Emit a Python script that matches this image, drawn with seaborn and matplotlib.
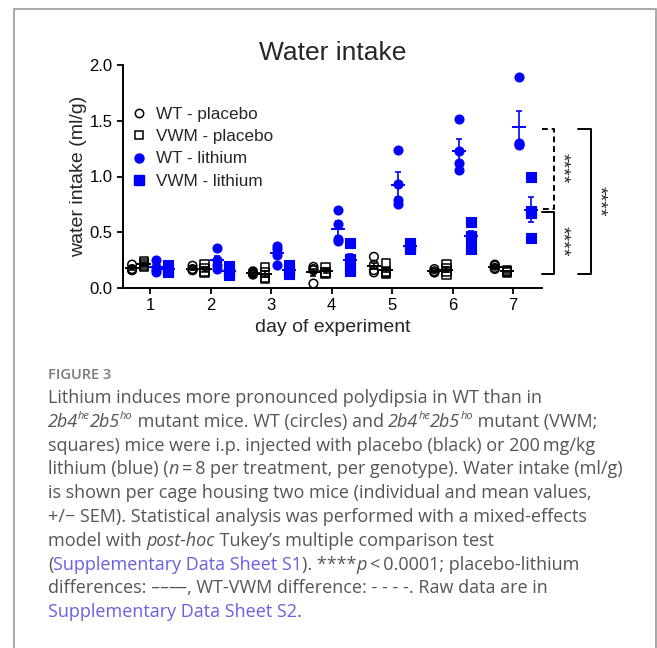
import numpy as np
import pandas as pd
import seaborn as sns
import matplotlib.pyplot as plt
from matplotlib.lines import Line2D
from matplotlib.patches import Rectangle

# Water intake (ml/g) per cage, 4 cages per group, days 1-7
days = [1, 2, 3, 4, 5, 6, 7]
wt_placebo = [[0.21, 0.17, 0.16, 0.16], [0.20, 0.16, 0.16, 0.17], [0.15, 0.14, 0.12, 0.13],
              [0.19, 0.17, 0.16, 0.04], [0.28, 0.21, 0.16, 0.14], [0.17, 0.15, 0.14, 0.14],
              [0.21, 0.20, 0.18, 0.17]]
vwm_placebo = [[0.24, 0.22, 0.20, 0.19], [0.21, 0.18, 0.14, 0.15], [0.19, 0.14, 0.09, 0.08],
               [0.19, 0.14, 0.13, 0.14], [0.22, 0.15, 0.13, 0.14], [0.21, 0.18, 0.15, 0.12],
               [0.16, 0.15, 0.15, 0.14]]
wt_lithium = [[0.25, 0.19, 0.16, 0.14], [0.36, 0.25, 0.21, 0.17], [0.38, 0.35, 0.30, 0.21],
              [0.70, 0.57, 0.44, 0.42], [1.24, 0.93, 0.79, 0.75], [1.52, 1.23, 1.12, 1.06],
              [1.89, 1.30, 1.29, 1.28]]
vwm_lithium = [[0.21, 0.17, 0.15, 0.14], [0.20, 0.15, 0.14, 0.12], [0.21, 0.17, 0.14, 0.13],
               [0.40, 0.26, 0.18, 0.15], [0.40, 0.38, 0.36, 0.35], [0.59, 0.47, 0.45, 0.35],
               [1.00, 0.69, 0.67, 0.45]]

groups = ["WT - placebo", "VWM - placebo", "WT - lithium", "VWM - lithium"]
group_data = [wt_placebo, vwm_placebo, wt_lithium, vwm_lithium]
offsets = [-0.3, -0.1, 0.1, 0.3]
colors = ["black", "black", "#0000ff", "#0000ff"]
markers = ["o", "s", "o", "s"]
filled = [False, False, True, True]

BLUE = "#0000ff"

sns.set_style("ticks")
plt.rcParams['font.family'] = ['Liberation Sans', 'DejaVu Sans']

fig = plt.figure(figsize=(6.57, 6.48), dpi=100)
ax = fig.add_axes([123 / 657, 1 - 288 / 648, (542 - 123) / 657, (288 - 65) / 648])

rows = []
for g, vals, off in zip(groups, group_data, offsets):
    for d, v in zip(days, vals):
        for x in v:
            rows.append({"group": g, "day": d, "x": d + off, "value": x})
df = pd.DataFrame(rows)

for g, off, c, m, f in zip(groups, offsets, colors, markers, filled):
    sub = df[df.group == g]
    if f:
        sns.scatterplot(data=sub, x="x", y="value", ax=ax, marker=m, s=42,
                        color=c, edgecolor=c, linewidth=0.8, label=g, zorder=3)
    else:
        sns.scatterplot(data=sub, x="x", y="value", ax=ax, marker=m, s=38,
                        facecolors="none", edgecolor=c, linewidth=1.1, label=g, zorder=3)
    stats = sub.groupby("day")["value"].agg(["mean", "std", "count"])
    sem = stats["std"] / np.sqrt(stats["count"])
    xs = stats.index.values + off
    ax.errorbar(xs, stats["mean"], yerr=sem, fmt="none", ecolor=c, elinewidth=1.2,
                capsize=2.5, capthick=1.2, zorder=4)
    ax.scatter(xs, stats["mean"], marker="_", s=110, color=c, linewidths=1.4, zorder=4)

ax.set_xlim(0.55, 7.48)
ax.set_ylim(0, 2.0)
ax.set_xticks(days)
ax.set_yticks([0, 0.5, 1.0, 1.5, 2.0])
ax.set_yticklabels(["0.0", "0.5", "1.0", "1.5", "2.0"])
ax.tick_params(labelsize=12, width=1.3, length=4, color="black", labelcolor="black")
for s in ["left", "bottom"]:
    ax.spines[s].set_linewidth(1.4)
    ax.spines[s].set_color("black")
sns.despine(ax=ax)
ax.set_xlabel("day of experiment", fontsize=14, labelpad=4)
ax.set_ylabel("water intake (ml/g)", fontsize=14, labelpad=2)
ax.set_title("Water intake", fontsize=19, pad=-3)

handles = [
    Line2D([], [], ls="none", marker="o", mfc="none", mec="black", ms=6, mew=1.1),
    Line2D([], [], ls="none", marker="s", mfc="none", mec="black", ms=6, mew=1.1),
    Line2D([], [], ls="none", marker="o", mfc=BLUE, mec=BLUE, ms=6.5),
    Line2D([], [], ls="none", marker="s", mfc=BLUE, mec=BLUE, ms=6.5),
]
ax.legend(handles, groups, loc="upper left", bbox_to_anchor=(-0.02, 0.88), frameon=False,
          fontsize=12.3, handlelength=1.0, handletextpad=0.5, labelspacing=0.42)

# significance brackets on day 7
m7 = {g: np.mean(v[-1]) for g, v in zip(groups, group_data)}
top = m7["WT - lithium"] - 0.01
mid = m7["VWM - lithium"] + 0.01
low = min(m7["WT - placebo"], m7["VWM - placebo"]) - 0.02
kw = dict(color="black", lw=1.4, clip_on=False)
ax.plot([7.48, 7.68, 7.68, 7.48], [top, top, mid, mid], ls=(0, (3, 2)), **kw)
ax.plot([7.48, 7.68, 7.68, 7.48], [mid - 0.03, mid - 0.03, low, low], **kw)
ax.plot([8.07, 8.29, 8.29, 8.07], [top, top, low, low], **kw)
st = dict(rotation=270, fontsize=14, ha="center", va="center", clip_on=False)
ax.text(7.80, (top + mid) / 2, "****", **st)
ax.text(7.80, (mid + low) / 2, "****", **st)
ax.text(8.42, (top + low) / 2, "****", **st)

# panel border
fig.patches.append(Rectangle((14 / 657, -0.1), (656 - 14) / 657, 1.1 - 9 / 648,
                             transform=fig.transFigure, fill=False, ec="#9a9a9a", lw=1.2))

# caption
CAP = "#555555"
LINK = "#6a5fe6"
cap_font = ['Open Sans', 'DejaVu Sans']
fig.text(48 / 657, 1 - 375 / 648, "FIGURE 3", fontsize=10.5, color="#7a7a7a",
         family=cap_font, weight="semibold", va="center")

caption = [
    [("Lithium induces more pronounced polydipsia in WT than in", "n")],
    [("2b4", "i"), ("he", "si"), ("2b5", "i"), ("ho", "si"), (" mutant mice. WT (circles) and ", "n"),
     ("2b4", "i"), ("he", "si"), ("2b5", "i"), ("ho", "si"), (" mutant (VWM;", "n")],
    [("squares) mice were i.p. injected with placebo (black) or 200\u2009mg/kg", "n")],
    [("lithium (blue) (", "n"), ("n", "i"), ("\u2009=\u20098 per treatment, per genotype). Water intake (ml/g)", "n")],
    [("is shown per cage housing two mice (individual and mean values,", "n")],
    [("+/\u2212 SEM). Statistical analysis was performed with a mixed-effects", "n")],
    [("model with ", "n"), ("post-hoc", "i"), (" Tukey\u2019s multiple comparison test", "n")],
    [("(", "n"), ("Supplementary Data Sheet S1", "l"), ("). ****", "n"), ("p", "i"),
     ("\u2009<\u20090.0001; placebo-lithium", "n")],
    [("differences: ––—, WT-VWM difference: - - - -. Raw data are in", "n")],
    [("Supplementary Data Sheet S2", "l"), (".", "n")],
]

fig.canvas.draw()
renderer = fig.canvas.get_renderer()
x0 = 48 / 657
for i, line in enumerate(caption):
    y = 1 - (398 + 23.8 * i) / 648
    x = x0
    for txt, style in line:
        yy = y
        kwargs = dict(color=CAP, family=cap_font, va="center", fontsize=13)
        if "i" in style:
            kwargs["style"] = "italic"
        if "s" in style:
            kwargs["fontsize"] = 8
            yy = y + 5 / 648
        if style == "l":
            kwargs["color"] = LINK
        t = fig.text(x, yy, txt, **kwargs)
        bb = t.get_window_extent(renderer)
        x += bb.width / fig.bbox.width

fig.savefig("out.png", dpi=100)
